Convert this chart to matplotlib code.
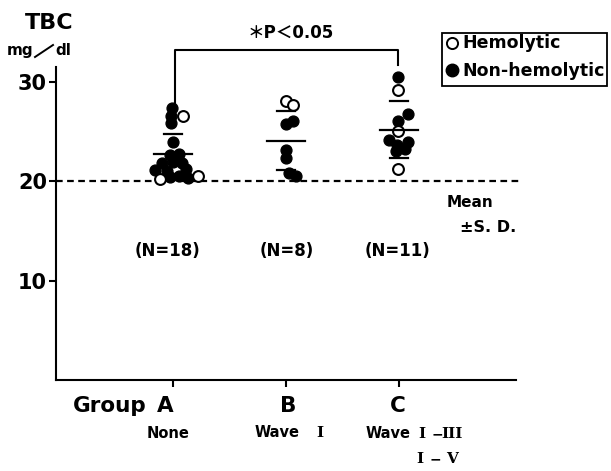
import matplotlib
matplotlib.use("Agg")
import matplotlib.pyplot as plt
from matplotlib.patches import Rectangle
from matplotlib.lines import Line2D

# ---------------- data ----------------
groups = ["A", "B", "C"]
n_labels = ["(N=18)", "(N=8)", "(N=11)"]

A_filled = [27.4, 26.6, 25.9, 24.0, 22.6, 22.7, 21.8, 21.9, 21.8, 21.1, 21.0, 21.2, 20.4, 20.5, 20.3]
A_open = [26.6, 20.2, 20.5]
B_filled = [26.1, 25.8, 23.1, 22.3, 20.8, 20.5]
B_open = [28.1, 27.7]
C_filled = [30.5, 26.8, 26.1, 24.2, 24.0, 23.6, 23.2, 23.0]
C_open = [29.2, 25.1, 21.2]

# horizontal jitter of each dot (pixels) so overlapping dots spread like the original
A_filled_dx = [-1, -2, -2, 0, -3, 6, -11, 0, 9, -18, -6, 13, -3, 6, 15]
A_open_dx = [10, -13, 25]
B_filled_dx = [7, 0, 0, 0, 3, 10]
B_open_dx = [0, 7]
C_filled_dx = [-1, 9, -1, -10, 9, -2, 6, -3]
C_open_dx = [-1, -1, -1]

means = [22.7, 24.1, 25.2]
sds = [2.1, 3.0, 2.85]
reference_level = 20
y_ticks = [10, 20, 30]

# ---------------- figure ----------------
W, H = 611, 471
fig = plt.figure(figsize=(W / 100, H / 100), dpi=100)
fig.patch.set_facecolor("white")
ax = fig.add_axes([56 / W, 1 - 380 / H, 460 / W, 313 / H])
PX = 113.0  # pixels per group unit
x0 = 1 - 117 / PX
ax.set_xlim(x0, x0 + 460 / PX)
ax.set_ylim(0, 31.5)

for s in ["top", "right"]:
    ax.spines[s].set_visible(False)
for s in ["left", "bottom"]:
    ax.spines[s].set_linewidth(1.5)

BOLD = dict(family="DejaVu Sans", weight="bold")
ax.set_yticks(y_ticks)
ax.set_yticklabels([str(t) for t in y_ticks], fontsize=15, **BOLD)
ax.tick_params(axis="y", length=5, width=1.5, pad=1.5)
ax.set_xticks([1, 2, 3])
ax.set_xticklabels([])
ax.tick_params(axis="x", length=5, width=1.5)

# reference dashed line
ax.plot([x0, 1 + (522 - 173) / PX], [reference_level] * 2, color="k", lw=1.6,
        ls=(0, (3, 2)), clip_on=False, zorder=2)

# dots
sets = [(A_filled, A_filled_dx, A_open, A_open_dx),
        (B_filled, B_filled_dx, B_open, B_open_dx),
        (C_filled, C_filled_dx, C_open, C_open_dx)]
for i, (fv, fdx, ov, odx) in enumerate(sets):
    xc = i + 1
    ax.plot([xc + d / PX for d in fdx], fv, "o", ms=7.8, mfc="k", mec="k",
            mew=1.0, ls="none", zorder=3)
    ax.plot([xc + d / PX for d in odx], ov, "o", ms=7.8, mfc="white", mec="k",
            mew=1.5, ls="none", zorder=4)

# mean and SD bars
for i, (m, s) in enumerate(zip(means, sds)):
    xc = i + 1
    ax.plot([xc - 19 / PX, xc + 19 / PX], [m, m], color="k", lw=1.6, zorder=5)
    for v in (m + s, m - s):
        ax.plot([xc - 9 / PX, xc + 9 / PX], [v, v], color="k", lw=1.6, zorder=5)

# significance bracket
ax.plot([1 + 2 / PX, 1 + 2 / PX, 3 - 1 / PX, 3 - 1 / PX], [27.9, 33.2, 33.2, 31.7],
        color="k", lw=1.5, clip_on=False, zorder=5)


def fx(x):
    return x / W


def fy(y):
    return 1 - y / H


MIX = dict(family=["DejaVu Sans", "Noto Sans CJK JP"], weight="bold")
fig.text(fx(291), fy(33), "＊P＜0.05", fontsize=12, ha="center", va="center", **MIX)

# N labels
for xc, lab in zip([167, 287, 398], n_labels):
    fig.text(fx(xc), fy(251), lab, fontsize=12, ha="center", va="center", **BOLD)

# axis title
fig.text(fx(49), fy(29), "TBC", fontsize=16, ha="center", va="baseline", **BOLD)
fig.text(fx(33), fy(55), "mg", fontsize=11, ha="right", va="baseline", **BOLD)
fig.lines.append(Line2D([fx(35), fx(53)], [fy(57), fy(45)], color="k", lw=1.4,
                        transform=fig.transFigure))
fig.text(fx(55), fy(55), "dl", fontsize=11, ha="left", va="baseline", **BOLD)

# Mean ± SD note
fig.text(fx(447), fy(207), "Mean", fontsize=11, ha="left", va="baseline", **BOLD)
fig.text(fx(460), fy(232), "±S. D.", fontsize=11.5, ha="left", va="baseline", **BOLD)

# group labels
fig.text(fx(73), fy(412), "Group", fontsize=15.5, ha="left", va="baseline", **BOLD)
for xc, g in zip([165, 288, 398], groups):
    fig.text(fx(xc), fy(412), g, fontsize=15.5, ha="center", va="baseline", **BOLD)

# sub notes
SERIF = dict(family="DejaVu Serif", weight="bold")
fig.text(fx(168), fy(438), "None", fontsize=10.5, ha="center", va="baseline", **BOLD)
fig.text(fx(277), fy(437), "Wave", fontsize=10.5, ha="center", va="baseline", **BOLD)
fig.text(fx(320), fy(437), "I", fontsize=11, ha="center", va="baseline", **SERIF)
fig.text(fx(388), fy(438), "Wave", fontsize=10.5, ha="center", va="baseline", **BOLD)
fig.text(fx(422), fy(438), "I", fontsize=11, ha="center", va="baseline", **SERIF)
fig.text(fx(437), fy(438), "−", fontsize=10, ha="center", va="baseline", **BOLD)
fig.text(fx(452), fy(438), "III", fontsize=11, ha="center", va="baseline", **SERIF)
fig.text(fx(420), fy(463), "I", fontsize=11, ha="center", va="baseline", **SERIF)
fig.text(fx(435), fy(463), "−", fontsize=10, ha="center", va="baseline", **BOLD)
fig.text(fx(452), fy(463), "V", fontsize=11, ha="center", va="baseline", **SERIF)

# legend (drawn by hand)
fig.patches.append(Rectangle((fx(442), fy(86)), (607 - 442) / W, (86 - 33) / H,
                             transform=fig.transFigure, fill=False, lw=1.3,
                             edgecolor="k"))
fig.lines.append(Line2D([fx(452)], [fy(43)], marker="o", ms=8, mfc="white",
                        mec="k", mew=1.4, transform=fig.transFigure))
fig.lines.append(Line2D([fx(452)], [fy(70)], marker="o", ms=9, mfc="k",
                        mec="k", transform=fig.transFigure))
fig.text(fx(462), fy(48), "Hemolytic", fontsize=12.5, ha="left", va="baseline", **BOLD)
fig.text(fx(462), fy(76), "Non-hemolytic", fontsize=12.5, ha="left", va="baseline", **BOLD)

fig.savefig("out.png", dpi=100, facecolor="white")
